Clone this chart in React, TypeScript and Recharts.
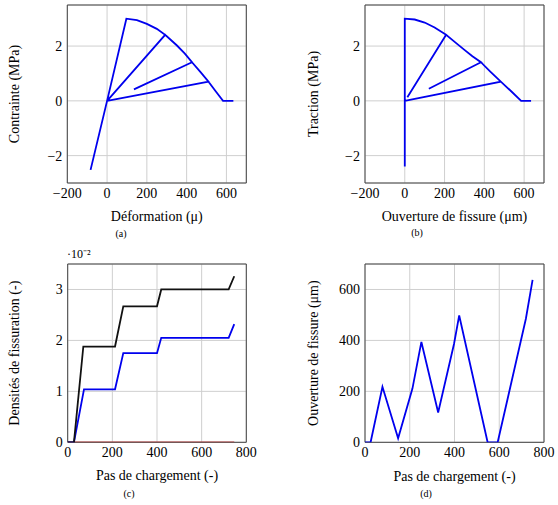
import React from "react";
import { LineChart, Line, XAxis, YAxis, CartesianGrid, ReferenceLine, Label } from "recharts";

// (a) contrainte - déformation
const loiDeformation = [
  { x: -83, y: -2.52 }, { x: 0, y: 0 }, { x: 97, y: 3.0 }, { x: 150, y: 2.95 },
  { x: 200, y: 2.81 }, { x: 250, y: 2.63 }, { x: 292, y: 2.41 }, { x: 0, y: 0 },
  { x: 292, y: 2.41 }, { x: 350, y: 2.03 }, { x: 390, y: 1.73 }, { x: 427, y: 1.41 },
  { x: 135, y: 0.42 }, { x: 427, y: 1.41 }, { x: 470, y: 1.05 }, { x: 510, y: 0.7 },
  { x: 0, y: 0 }, { x: 510, y: 0.7 }, { x: 545, y: 0.36 }, { x: 583, y: 0 }, { x: 635, y: 0 },
];

// (b) traction - ouverture
const loiOuverture = [
  { x: 0, y: -2.4 }, { x: 0, y: 3.0 }, { x: 50, y: 2.97 }, { x: 100, y: 2.86 },
  { x: 150, y: 2.68 }, { x: 208, y: 2.41 }, { x: 13, y: 0.13 }, { x: 208, y: 2.41 },
  { x: 260, y: 2.1 }, { x: 300, y: 1.86 }, { x: 340, y: 1.63 }, { x: 383, y: 1.41 },
  { x: 121, y: 0.44 }, { x: 383, y: 1.41 }, { x: 430, y: 1.07 }, { x: 483, y: 0.7 },
  { x: 0, y: 0 }, { x: 483, y: 0.7 }, { x: 535, y: 0.35 }, { x: 585, y: 0 }, { x: 635, y: 0 },
];

// (c) densités de fissuration (x 10^-2)
const densiteNoire = [
  { x: 0, y: 0 }, { x: 28, y: 0 }, { x: 70, y: 1.88 }, { x: 212, y: 1.88 },
  { x: 249, y: 2.67 }, { x: 400, y: 2.67 }, { x: 419, y: 3.0 }, { x: 721, y: 3.0 }, { x: 746, y: 3.26 },
];
const densiteBleue = [
  { x: 0, y: 0 }, { x: 28, y: 0 }, { x: 73, y: 1.04 }, { x: 212, y: 1.04 },
  { x: 249, y: 1.75 }, { x: 400, y: 1.75 }, { x: 419, y: 2.05 }, { x: 721, y: 2.05 }, { x: 746, y: 2.32 },
];
const densiteRouge = [{ x: 0, y: 0 }, { x: 746, y: 0 }];

// (d) ouverture de fissure
const ouverture = [
  { x: 0, y: 0 }, { x: 25, y: 0 }, { x: 78, y: 218 }, { x: 148, y: 16 }, { x: 212, y: 211 },
  { x: 252, y: 394 }, { x: 327, y: 117 }, { x: 398, y: 387 }, { x: 421, y: 498 },
  { x: 548, y: 0 }, { x: 593, y: 0 }, { x: 719, y: 485 }, { x: 749, y: 638 },
];

const ticksDef = [-200, 0, 200, 400, 600];
const ticksMPa = [-2, 0, 2];
const ticksPas = [0, 200, 400, 600, 800];
const ticksDensite = [0, 1, 2, 3];
const ticksOuverture = [0, 200, 400, 600];

const FONT = "Liberation Serif";
const BLEU = "#0000ee";
const fmt = (v: number) => (v < 0 ? "\u2212" + Math.abs(v) : String(v));

function Panel(p: any) {
  return (
    <LineChart width={279} height={250}
      margin={{ top: p.top, right: p.right, bottom: 0, left: 0 }}>
      <CartesianGrid stroke="#cfcfcf" />
      <ReferenceLine x={p.xDomain[0]} stroke="#444" />
      <ReferenceLine x={p.xDomain[1]} stroke="#444" />
      <ReferenceLine y={p.yDomain[0]} stroke="#444" />
      <ReferenceLine y={p.yDomain[1]} stroke="#444" />
      <XAxis dataKey="x" type="number" domain={p.xDomain} ticks={p.xTicks}
        allowDataOverflow height={p.xHeight} tickLine={false} axisLine={false}
        tickSize={0} tickMargin={5} interval={0} tickFormatter={fmt}
        tick={{ fontFamily: FONT, fontSize: 14, fill: "#000" }}>
        <Label value={p.xTitle} position="insideBottom" offset={p.xTitleOffset}
          fontFamily={FONT} fontSize={14} fill="#000" />
      </XAxis>
      <YAxis type="number" domain={p.yDomain} ticks={p.yTicks} allowDataOverflow
        width={p.yWidth} tickLine={false} axisLine={false} tickSize={0} tickMargin={5}
        interval={0} tickFormatter={fmt}
        tick={{ fontFamily: FONT, fontSize: 14, fill: "#000" }}>
        <Label value={p.yTitle} angle={-90} position="insideLeft" offset={p.yTitleX}
          fontFamily={FONT} fontSize={14} fill="#000" style={{ textAnchor: "middle" }} />
      </YAxis>
      {p.children}
    </LineChart>
  );
}

function Caption({ x, y, text }: { x: number; y: number; text: string }) {
  return (
    <div style={{ position: "absolute", left: x - 20, top: y - 5, width: 40, textAlign: "center",
      fontFamily: FONT, fontSize: 10, lineHeight: "10px" }}>{text}</div>
  );
}

export default function App() {
  return (
    <div style={{ position: "absolute", left: 0, top: 0, width: 558, height: 500, overflow: "hidden" }}>
      <div style={{ position: "absolute", left: 0, top: 0 }}>
        <Panel top={5} right={32.7} yWidth={67.3} xHeight={67}
          xDomain={[-200, 700]} yDomain={[-3, 3.5]} xTicks={ticksDef} yTicks={ticksMPa}
          xTitle="Déformation (μ)" yTitle="Contrainte (MPa)" xTitleOffset={29} yTitleX={14}>
          <Line data={loiDeformation} dataKey="y" stroke={BLEU} strokeWidth={1.8} dot={false} isAnimationActive={false} />
        </Panel>
      </div>
      <div style={{ position: "absolute", left: 279, top: 0 }}>
        <Panel top={5} right={14} yWidth={86} xHeight={67}
          xDomain={[-200, 700]} yDomain={[-3, 3.5]} xTicks={ticksDef} yTicks={ticksMPa}
          xTitle="Ouverture de fissure (μm)" yTitle="Traction (MPa)" xTitleOffset={29} yTitleX={34.5}>
          <Line data={loiOuverture} dataKey="y" stroke={BLEU} strokeWidth={1.8} dot={false} isAnimationActive={false} />
        </Panel>
      </div>
      <div style={{ position: "absolute", left: 0, top: 250 }}>
        <Panel top={14} right={32.7} yWidth={67.7} xHeight={57.7}
          xDomain={[0, 800]} yDomain={[0, 3.5]} xTicks={ticksPas} yTicks={ticksDensite}
          xTitle="Pas de chargement (-)" yTitle="Densités de fissuration (-)" xTitleOffset={20} yTitleX={14.5}>
          <Line data={densiteRouge} dataKey="y" stroke="#b03a3a" strokeWidth={1.4} dot={false} isAnimationActive={false} />
          <Line data={densiteBleue} dataKey="y" stroke={BLEU} strokeWidth={1.8} dot={false} isAnimationActive={false} />
          <Line data={densiteNoire} dataKey="y" stroke="#111" strokeWidth={1.8} dot={false} isAnimationActive={false} />
        </Panel>
      </div>
      <div style={{ position: "absolute", left: 279, top: 250 }}>
        <Panel top={14} right={14} yWidth={86} xHeight={57.7}
          xDomain={[0, 800]} yDomain={[0, 700]} xTicks={ticksPas} yTicks={ticksOuverture}
          xTitle="Pas de chargement (-)" yTitle="Ouverture de fissure (μm)" xTitleOffset={19} yTitleX={34}>
          <Line data={ouverture} dataKey="y" stroke={BLEU} strokeWidth={1.8} dot={false} isAnimationActive={false} />
        </Panel>
      </div>
      <div style={{ position: "absolute", left: 67, top: 247, fontFamily: FONT, fontSize: 12, lineHeight: "14px" }}>
        {"\u00b710\u207b\u00b2"}
      </div>
      <Caption x={121} y={234} text="(a)" />
      <Caption x={417} y={233} text="(b)" />
      <Caption x={129} y={494} text="(c)" />
      <Caption x={426} y={494} text="(d)" />
    </div>
  );
}
